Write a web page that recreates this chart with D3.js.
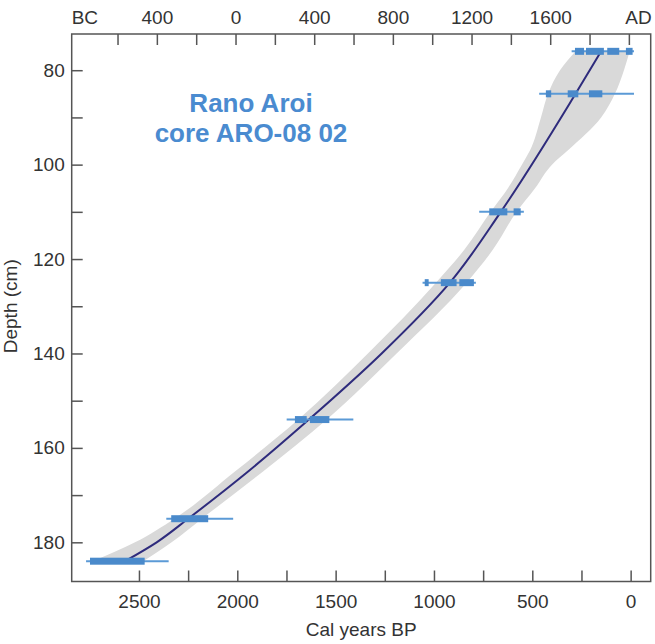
<!DOCTYPE html>
<html>
<head>
<meta charset="utf-8">
<script src="https://cdn.jsdelivr.net/npm/d3@7"></script>
<style>
  body { margin: 0; background: #fff; }
  text { font-family: "Liberation Sans", Arial, sans-serif; }
</style>
</head>
<body>
<svg id="chart" width="655" height="644"></svg>
<script>
// age-model (depth in cm, age in cal yr BP)
const lineDepth = [76, 85, 110, 125, 140, 154, 165, 175, 180, 184];
const lineAge   = [150, 280, 660, 919, 1266, 1636, 1945, 2250, 2410, 2571];

// uncertainty envelope
const bandDepth = [76, 80, 85, 90, 97, 100, 105, 110, 118, 125, 140, 154, 165, 175, 180, 184];
const bandOld   = [280, 359, 420, 456, 512, 553, 624, 712, 845, 990, 1336, 1690, 2012, 2320, 2520, 2735];
const bandYoung = [5, 34, 80, 150, 320, 400, 486, 580, 700, 834, 1190, 1545, 1869, 2180, 2334, 2478];

// dated levels: full range + probability boxes
const dateDepth = [76, 85, 110, 125, 154, 175, 184];
const rangeOld   = [300, 465, 770, 1058, 1749, 2361, 2769];
const rangeYoung = [-17, -17, 543, 787, 1410, 2021, 2349];
const dateBoxes = [
  [[283, 237], [227, 136], [119, 58], [24, -10]],
  [[431, 404], [320, 266], [212, 144]],
  [[719, 627], [595, 559]],
  [[1047, 1027], [965, 885], [871, 797]],
  [[1707, 1647], [1631, 1532]],
  [[2336, 2148]],
  [[2749, 2471]]
];

const bottomTicks = d3.range(2500, -1, -250);
const bottomLabels = [2500, 2000, 1500, 1000, 500, 0];
const topTicks = d3.range(-600, 2001, 200);
const topLabels = [-400, 0, 400, 800, 1200, 1600];
const leftTicks = d3.range(80, 181, 10);
const leftLabels = [80, 100, 120, 140, 160, 180];

const svg = d3.select('#chart');
const L = 71.7, R = 650.7, T = 34, B = 581.5;

const x = d3.scaleLinear([2842, -102], [L, R]);
const xTop = d3.scaleLinear([2009 - 2842, 2009 + 102], [L, R]);
const y = d3.scaleLinear([72.33, 188.3], [T, B]);

const band = bandDepth.map((d, i) => ({d: d, o: bandOld[i], yg: bandYoung[i]}));
svg.append('path')
  .datum(band)
  .attr('fill', '#d9d9d9')
  .attr('d', d3.area()
    .y(d => y(d.d))
    .x0(d => x(d.o))
    .x1(d => x(d.yg))
    .curve(d3.curveMonotoneY));

const line = lineDepth.map((d, i) => ({d: d, a: lineAge[i]}));
svg.append('path')
  .datum(line)
  .attr('fill', 'none')
  .attr('stroke', '#2e2b7c')
  .attr('stroke-width', 2)
  .attr('d', d3.line()
    .y(d => y(d.d))
    .x(d => x(d.a))
    .curve(d3.curveMonotoneY));

const dates = svg.append('g');
dateDepth.forEach((d, i) => {
  dates.append('line')
    .attr('x1', x(rangeOld[i])).attr('x2', x(rangeYoung[i]))
    .attr('y1', y(d)).attr('y2', y(d))
    .attr('stroke', '#5b9ad6')
    .attr('stroke-width', 2);
  dates.selectAll(null)
    .data(dateBoxes[i])
    .join('rect')
    .attr('x', b => x(b[0]))
    .attr('width', b => x(b[1]) - x(b[0]))
    .attr('y', y(d) - 3.5)
    .attr('height', 7)
    .attr('fill', '#4a8acb');
});

// axes, ticks inside the frame
const fmt = v => String(Math.abs(v));
svg.append('g')
  .attr('transform', `translate(0,${B})`)
  .call(d3.axisBottom(x).tickValues(bottomTicks).tickSize(-11).tickPadding(13)
    .tickFormat(v => bottomLabels.includes(v) ? v : ''))
  .call(g => g.select('.domain').remove());

svg.append('g')
  .attr('transform', `translate(0,${T})`)
  .call(d3.axisTop(xTop).tickValues(topTicks).tickSize(-11).tickPadding(10)
    .tickFormat(v => topLabels.includes(v) ? fmt(v) : ''))
  .call(g => g.select('.domain').remove());

svg.append('g')
  .attr('transform', `translate(${L},0)`)
  .call(d3.axisLeft(y).tickValues(leftTicks).tickSize(-11).tickPadding(7)
    .tickFormat(v => leftLabels.includes(v) ? v : ''))
  .call(g => g.select('.domain').remove());

svg.selectAll('.tick line').attr('stroke', '#555').attr('stroke-width', 1.5);
svg.selectAll('.tick text').attr('fill', '#333').style('font-size', '19px')
  .style('font-family', '"Liberation Sans", Arial, sans-serif');

svg.append('rect')
  .attr('x', L).attr('y', T)
  .attr('width', R - L).attr('height', B - T)
  .attr('fill', 'none')
  .attr('stroke', '#555')
  .attr('stroke-width', 1.5);

svg.append('text').attr('x', L).attr('y', 23.5)
  .attr('font-size', 19).attr('fill', '#333').text('BC');
svg.append('text').attr('x', R + 1).attr('y', 23.5).attr('text-anchor', 'end')
  .attr('font-size', 19).attr('fill', '#333').text('AD');

svg.append('text')
  .attr('x', (L + R) / 2).attr('y', 636)
  .attr('text-anchor', 'middle')
  .attr('font-size', 19).attr('fill', '#333')
  .text('Cal years BP');

svg.append('text')
  .attr('transform', `translate(17,${y(130)}) rotate(-90)`)
  .attr('text-anchor', 'middle')
  .attr('font-size', 19).attr('fill', '#333')
  .text('Depth (cm)');

const title = svg.append('text')
  .attr('text-anchor', 'middle')
  .attr('font-size', 26).attr('font-weight', 'bold')
  .attr('fill', '#4a8bd0');
title.append('tspan').attr('x', 251).attr('y', 111.5).text('Rano Aroi');
title.append('tspan').attr('x', 251).attr('y', 141.5).text('core ARO-08 02');
</script>
</body>
</html>
